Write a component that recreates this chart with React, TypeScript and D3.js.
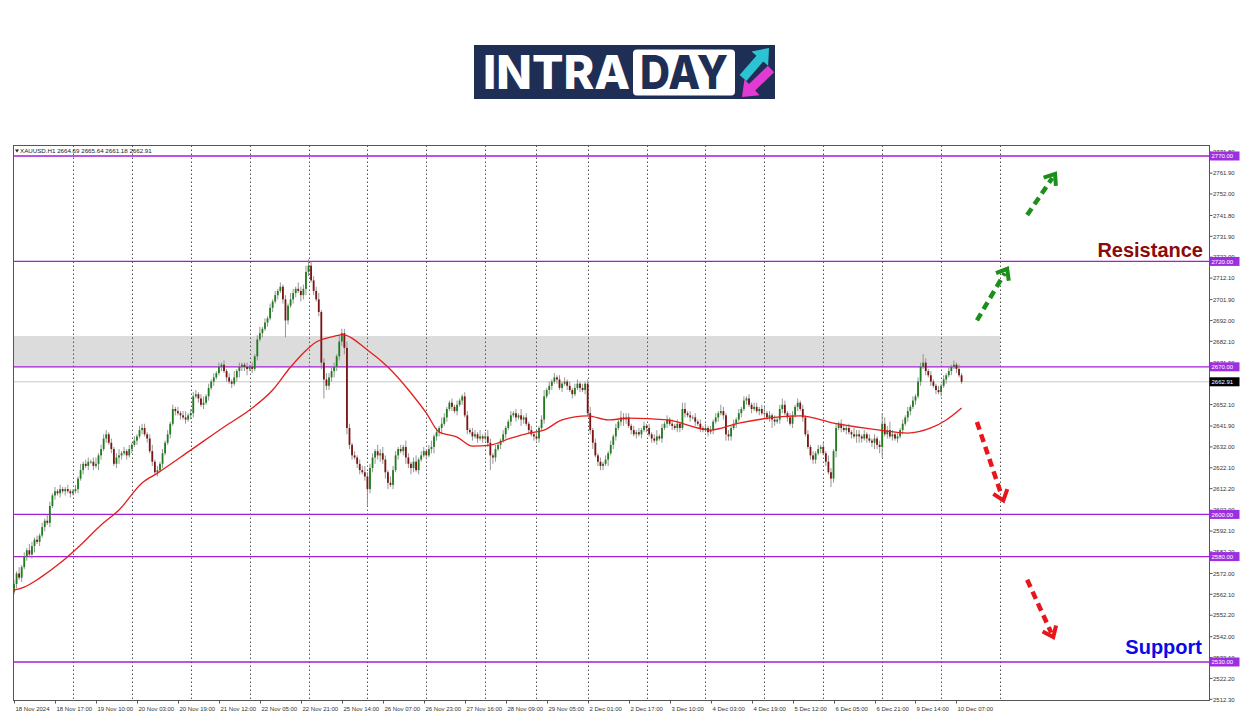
import React from 'react';
import * as d3 from 'd3';

// ---------- DATA ----------
const symbolHeader = 'XAUUSD.H1  2664.69 2665.64 2661.18 2662.91';
const firstOpen = 2563;
const lastPrice = 2662.91;

const closes = [
  2567, 2572, 2570, 2575, 2580, 2583, 2581, 2585, 2588, 2587,
  2590, 2594, 2597, 2596, 2604, 2609, 2611, 2610, 2612, 2611,
  2612, 2611, 2610, 2611, 2612, 2617, 2621, 2624, 2623, 2625,
  2625, 2623, 2624, 2628, 2631, 2636, 2638, 2634, 2631, 2624,
  2627, 2628, 2629, 2630, 2628, 2631, 2633, 2635, 2637, 2640,
  2641, 2638, 2636, 2630, 2625, 2620, 2621, 2624, 2629, 2634,
  2638, 2643, 2650, 2649, 2648, 2647, 2646, 2645, 2647, 2648,
  2656, 2657, 2655, 2652, 2653, 2656, 2660, 2663, 2665, 2667,
  2670, 2671, 2668, 2665, 2663, 2662, 2665, 2668, 2670, 2671,
  2670, 2669, 2670, 2669, 2675, 2683, 2686, 2688, 2691, 2693,
  2698, 2701, 2704, 2706, 2708, 2702, 2692, 2699, 2702, 2705,
  2707, 2706, 2704, 2707, 2715, 2718, 2711, 2706, 2702, 2696,
  2672, 2664, 2661, 2665, 2668, 2670, 2675, 2682, 2686, 2679,
  2641, 2633, 2628, 2627, 2624, 2621, 2620, 2618, 2612, 2622,
  2627, 2630, 2628, 2629, 2626, 2620, 2615, 2614, 2621, 2628,
  2631, 2630, 2632, 2627, 2624, 2622, 2625, 2621, 2626, 2628,
  2630, 2628, 2631, 2632, 2637, 2639, 2641, 2643, 2646, 2650,
  2653, 2651, 2649, 2652, 2654, 2656, 2647, 2640, 2639, 2637,
  2638, 2636, 2637, 2636, 2637, 2634, 2628, 2627, 2631, 2633,
  2635, 2638, 2641, 2644, 2647, 2648, 2646, 2647, 2645, 2646,
  2643, 2640, 2638, 2637, 2636, 2641, 2645, 2656, 2659, 2661,
  2663, 2665, 2664, 2660, 2662, 2663, 2661, 2659, 2657, 2660,
  2662, 2660, 2659, 2662, 2648, 2640, 2634, 2628, 2625, 2623,
  2624, 2626, 2629, 2633, 2637, 2641, 2644, 2646, 2645, 2646,
  2642, 2640, 2638, 2639, 2638, 2640, 2642, 2641, 2638, 2636,
  2635, 2637, 2636, 2641, 2643, 2645, 2643, 2642, 2641, 2643,
  2641, 2650, 2648, 2647, 2646, 2646, 2644, 2643, 2641, 2640,
  2641, 2639, 2640, 2644, 2646, 2648, 2649, 2647, 2638, 2637,
  2641, 2643, 2645, 2648, 2650, 2654, 2655, 2652, 2650, 2651,
  2649, 2650, 2648, 2648, 2646, 2647, 2645, 2644, 2645, 2650,
  2652, 2648, 2646, 2643, 2647, 2651, 2653, 2650, 2646, 2638,
  2632, 2628, 2626, 2629, 2631, 2632, 2629, 2625, 2620, 2617,
  2630, 2641, 2643, 2641, 2640, 2641, 2639, 2638, 2637, 2638,
  2637, 2636, 2638, 2636, 2635, 2634, 2636, 2633, 2632, 2643,
  2638, 2640, 2637, 2638, 2636, 2637, 2640, 2643, 2646, 2649,
  2651, 2654, 2656, 2663, 2670, 2672, 2668, 2666, 2663, 2661,
  2659, 2658, 2661, 2664, 2666, 2668, 2670, 2671, 2669, 2666,
  2662.91,
];

const upWick = [
  2, 1, 3, 1, 2, 1, 3, 2, 1, 2, 1, 2, 1, 3, 2, 1, 2, 1, 2, 1,
  1, 2, 1, 1, 2, 1, 3, 1, 2, 2, 1, 2, 3, 1, 2, 2, 2, 1, 2, 1,
  2, 3, 1, 2, 1, 2, 1, 2, 1, 2, 2, 2, 1, 2, 3, 1, 2, 1, 2, 1,
  2, 1, 2, 1, 2, 1, 2, 3, 1, 2, 2, 2, 1, 2, 3, 1, 2, 1, 2, 1,
  2, 1, 2, 1, 2, 1, 3, 1, 2, 1, 1, 2, 1, 2, 1, 2, 3, 1, 2, 1,
  2, 1, 2, 1, 2, 1, 2, 1, 3, 2, 1, 3, 2, 2, 3, 3, 2, 2, 2, 3,
  1, 2, 3, 2, 2, 2, 1, 3, 2, 2, 3, 2, 1, 2, 1, 2, 2, 3, 2, 2,
  2, 1, 3, 2, 3, 2, 1, 3, 2, 2, 1, 2, 1, 3, 2, 1, 2, 3, 1, 2,
  2, 1, 2, 3, 1, 2, 1, 3, 2, 1, 1, 2, 1, 2, 1, 1, 2, 2, 1, 2,
  2, 1, 3, 1, 2, 3, 2, 1, 2, 1, 1, 2, 1, 1, 2, 1, 2, 1, 3, 1,
  2, 1, 2, 1, 2, 1, 2, 3, 1, 2, 1, 2, 1, 2, 1, 2, 1, 2, 1, 2,
  2, 1, 2, 1, 2, 3, 1, 2, 1, 2, 1, 2, 1, 2, 1, 2, 1, 3, 2, 2,
  2, 1, 2, 1, 2, 1, 2, 1, 2, 1, 2, 3, 1, 2, 1, 2, 1, 2, 1, 2,
  1, 3, 3, 1, 2, 1, 2, 1, 2, 1, 2, 1, 2, 1, 2, 1, 3, 2, 1, 2,
  1, 2, 1, 2, 1, 2, 1, 2, 1, 2, 2, 1, 2, 3, 1, 2, 1, 2, 1, 2,
  3, 2, 1, 2, 2, 1, 2, 1, 2, 1, 2, 1, 2, 1, 2, 1, 2, 1, 3, 2,
  1, 2, 1, 2, 2, 1, 2, 1, 3, 2, 2, 1, 2, 1, 2, 1, 2, 1, 2, 5,
  3, 2, 4, 2, 1, 2, 1, 2, 1, 2, 1, 2, 1, 2, 2, 4, 2, 1, 2, 1,
  1, 2, 1, 2, 1, 2, 1, 2, 1, 2, 1,
];

const downWick = [
  1, 2, 1, 2, 1, 2, 1, 2, 3, 1, 2, 1, 2, 1, 2, 1, 2, 1, 2, 1,
  2, 1, 2, 1, 1, 2, 1, 2, 1, 2, 1, 2, 1, 3, 2, 1, 2, 1, 2, 1,
  2, 3, 2, 1, 2, 1, 2, 1, 2, 1, 2, 1, 2, 1, 2, 1, 2, 1, 2, 1,
  1, 2, 1, 2, 1, 2, 1, 2, 1, 2, 2, 1, 2, 1, 2, 1, 2, 1, 2, 1,
  1, 2, 1, 2, 1, 2, 1, 2, 3, 2, 2, 3, 1, 2, 1, 2, 1, 2, 1, 2,
  1, 2, 1, 2, 1, 2, 8, 2, 1, 2, 2, 1, 3, 2, 3, 2, 1, 2, 1, 2,
  3, 9, 2, 2, 2, 3, 2, 2, 2, 3, 3, 2, 2, 1, 2, 2, 1, 2, 8, 2,
  2, 3, 2, 3, 2, 3, 3, 1, 2, 1, 2, 1, 2, 3, 2, 3, 2, 1, 2, 1,
  1, 2, 1, 2, 3, 2, 2, 3, 1, 2, 1, 2, 1, 2, 1, 2, 1, 2, 1, 2,
  1, 2, 1, 2, 1, 2, 7, 3, 2, 1, 2, 1, 2, 1, 2, 1, 2, 1, 3, 2,
  1, 2, 1, 2, 1, 2, 1, 2, 1, 2, 2, 1, 2, 1, 2, 1, 2, 1, 2, 1,
  1, 2, 1, 2, 1, 2, 3, 1, 2, 2, 2, 1, 3, 1, 2, 2, 1, 2, 3, 2,
  1, 2, 1, 2, 1, 2, 1, 2, 1, 2, 1, 2, 1, 2, 1, 2, 1, 2, 1, 2,
  2, 1, 2, 1, 2, 1, 2, 1, 2, 1, 1, 2, 1, 2, 1, 2, 1, 2, 3, 2,
  2, 1, 2, 1, 2, 1, 2, 1, 2, 1, 1, 2, 1, 2, 1, 2, 4, 2, 1, 2,
  2, 1, 2, 1, 2, 1, 2, 1, 2, 1, 1, 2, 2, 2, 1, 2, 1, 2, 1, 4,
  2, 3, 1, 2, 1, 2, 1, 2, 1, 3, 3, 2, 1, 2, 1, 2, 3, 2, 3, 5,
  1, 2, 1, 2, 1, 2, 1, 2, 1, 2, 2, 1, 2, 1, 2, 1, 2, 1, 2, 1,
  2, 1, 2, 1, 2, 1, 2, 1, 2, 1, 1,
];

// moving average (red line) read at sampled bars
const maBar = [0, 4, 10, 18, 26, 34, 41, 50, 56, 69, 82, 92, 101, 108, 113, 118, 127, 128, 138, 146, 155, 161, 166, 173, 179, 186, 194, 201, 207, 214, 224, 232, 240, 255, 272, 283, 307, 320, 338, 349, 358, 364, 370];
const maValue = [2564.1, 2565.5, 2569.8, 2576.9, 2585.5, 2595.0, 2602.1, 2614.9, 2619.6, 2630.5, 2641.5, 2649.5, 2659.0, 2669.9, 2676.6, 2681.8, 2685.0, 2685.3, 2678.0, 2669.9, 2657.6, 2648.1, 2639.0, 2636.7, 2632.4, 2632.9, 2636.2, 2638.6, 2640.0, 2644.8, 2646.7, 2644.8, 2645.7, 2644.8, 2640.0, 2643.3, 2646.7, 2643.3, 2640.0, 2638.6, 2641.0, 2644.8, 2650.5];

const levels = [2770, 2720, 2670, 2600, 2580, 2530];
const zoneLow = 2670;
const zoneHigh = 2684.6;
const zoneEndBar = 385;

const yTicks = [2771.8, 2761.9, 2752.0, 2741.8, 2731.9, 2722.0, 2712.1, 2701.9, 2692.0, 2682.1, 2671.9, 2662.0, 2652.1, 2641.9, 2632.0, 2622.1, 2612.2, 2602.0, 2592.1, 2582.2, 2572.0, 2562.1, 2552.2, 2542.0, 2532.1, 2522.2, 2512.3];

const xLabels = ['18 Nov 2024', '18 Nov 17:00', '19 Nov 10:00', '20 Nov 03:00', '20 Nov 19:00', '21 Nov 12:00', '22 Nov 05:00', '22 Nov 21:00', '25 Nov 14:00', '26 Nov 07:00', '26 Nov 23:00', '27 Nov 16:00', '28 Nov 09:00', '29 Nov 05:00', '2 Dec 01:00', '2 Dec 17:00', '3 Dec 10:00', '4 Dec 03:00', '4 Dec 19:00', '5 Dec 12:00', '6 Dec 05:00', '6 Dec 21:00', '9 Dec 14:00', '10 Dec 07:00'];
const xLabelBars = [0, 16, 32, 48, 64, 80, 96, 112, 128, 144, 160, 176, 192, 208, 224, 240, 256, 272, 288, 304, 320, 336, 352, 368];
const dayStartBars = [23, 46, 69, 92, 115, 138, 161, 184, 204, 224, 247, 270, 293, 316, 339, 362, 385];

// scenario arrows: [bar, price] -> [bar, price]
const scenarioArrows = [
  { color: '#1a8f1a', from: [376, 2692.0], to: [387.8, 2716.5] },
  { color: '#1a8f1a', from: [395.6, 2742.0], to: [406.5, 2761.5] },
  { color: '#e8161b', from: [376, 2643.8], to: [386.3, 2606.6] },
  { color: '#e8161b', from: [395.6, 2569.0], to: [405.8, 2541.8] },
];

const resistanceText = 'Resistance';
const supportText = 'Support';

// ---------- LAYOUT ----------
const W = 1250;
const H = 716;
const plotLeft = 13.5;
const plotRight = 1209.5;
const plotTop = 145.5;
const plotBottom = 700.5;
const FONT = 'Liberation Sans, Arial, sans-serif';

const x = d3.scaleLinear().domain([0, 385]).range([14, 1000]);
const y = d3.scaleLinear().domain([2530, 2770]).range([662, 156]);

function arrowPolygon(x1: number, y1: number, x2: number, y2: number, sw: number, hw: number, hl: number) {
  const dx = x2 - x1, dy = y2 - y1;
  const L = Math.hypot(dx, dy);
  const ux = dx / L, uy = dy / L;
  const nx = -uy, ny = ux;
  const bx = x2 - ux * hl, by = y2 - uy * hl;
  const pts = [
    [x1 + nx * sw / 2, y1 + ny * sw / 2],
    [bx + nx * sw / 2, by + ny * sw / 2],
    [bx + nx * hw / 2, by + ny * hw / 2],
    [x2, y2],
    [bx - nx * hw / 2, by - ny * hw / 2],
    [bx - nx * sw / 2, by - ny * sw / 2],
    [x1 - nx * sw / 2, y1 - ny * sw / 2],
  ];
  return pts.map((p) => p.join(',')).join(' ');
}

export default function App() {
  const candles = closes.map((c, i) => {
    const o = i === 0 ? firstOpen : closes[i - 1];
    const hi = Math.max(o, c) + upWick[i];
    const lo = Math.min(o, c) - downWick[i];
    return { i, o, c, hi, lo };
  });

  const maLine = d3
    .line<number>()
    .x((_, k) => x(maBar[k]))
    .y((v) => y(v))
    .curve(d3.curveMonotoneX)(maValue) as string;

  const bodyW = 1.8;

  return (
    <svg width={W} height={H} style={{ position: 'absolute', left: 0, top: 0, background: '#fff' }}>
      {/* Logo */}
      <g>
        <rect x={474} y={45} width={301} height={54} fill="#1e2e55" />
        <text x={483} y={89} fill="#fff" fontFamily="Inter, Liberation Sans, sans-serif" fontWeight={800} fontSize={46} textLength={147} lengthAdjust="spacingAndGlyphs">INTRA</text>
        <rect x={633} y={49.5} width={102} height={46} rx={4} fill="#fff" />
        <text x={640} y={89} fill="#1e2e55" fontFamily="Inter, Liberation Sans, sans-serif" fontWeight={800} fontSize={46} textLength={88} lengthAdjust="spacingAndGlyphs">DAY</text>
        <polygon points={arrowPolygon(743, 78, 769, 48, 9, 22, 14)} fill="#2cc4d2" />
        <polygon points={arrowPolygon(771, 69, 742, 97, 9, 22, 14)} fill="#e23ad2" />
      </g>

      {/* zone */}
      <rect x={x(0) - 0.5} y={y(zoneHigh)} width={x(zoneEndBar) - x(0) + 0.5} height={y(zoneLow) - y(zoneHigh)} fill="#dcdcdc" />

      {/* vertical day grid */}
      {dayStartBars.map((b) => (
        <line key={'g' + b} x1={Math.round(x(b)) + 0.5} x2={Math.round(x(b)) + 0.5} y1={plotTop} y2={plotBottom} stroke="#555" strokeWidth={1} strokeDasharray="1.5,2.5" />
      ))}

      {/* current price line */}
      <line x1={plotLeft} x2={plotRight} y1={y(lastPrice)} y2={y(lastPrice)} stroke="#c8c8c8" strokeWidth={1} />

      {/* level lines */}
      {levels.map((lv) => (
        <line key={'l' + lv} x1={plotLeft} x2={plotRight} y1={y(lv)} y2={y(lv)} stroke="#a21fd8" strokeWidth={1.3} />
      ))}

      {/* candles */}
      {candles.map((d) => {
        const cx = x(d.i);
        const bull = d.c >= d.o;
        const top = y(Math.max(d.o, d.c));
        const bot = y(Math.min(d.o, d.c));
        return (
          <g key={'c' + d.i}>
            <line x1={cx} x2={cx} y1={y(d.hi)} y2={y(d.lo)} stroke="#8a8a8a" strokeWidth={0.9} />
            <rect x={cx - bodyW / 2} y={top} width={bodyW} height={Math.max(0.8, bot - top)} fill={bull ? '#1f7d1f' : '#7d1414'} />
          </g>
        );
      })}

      {/* moving average */}
      <path d={maLine} fill="none" stroke="#e41d1d" strokeWidth={1.3} />

      {/* scenario arrows */}
      {scenarioArrows.map((a, k) => {
        const x1 = x(a.from[0]), y1 = y(a.from[1]);
        const x2 = x(a.to[0]), y2 = y(a.to[1]);
        const L = Math.hypot(x2 - x1, y2 - y1);
        const ux = (x2 - x1) / L, uy = (y2 - y1) / L;
        const ang = Math.PI / 180 * 38;
        const al = 12;
        const rot = (c: number, s: number) => [-(ux * c - uy * s) * al, -(uy * c + ux * s) * al];
        const a1 = rot(Math.cos(ang), Math.sin(ang));
        const a2 = rot(Math.cos(-ang), Math.sin(-ang));
        return (
          <g key={'a' + k}>
            <line x1={x1} y1={y1} x2={x2 - ux * 5} y2={y2 - uy * 5} stroke={a.color} strokeWidth={4.5} strokeDasharray="8,5" />
            <polyline points={`${x2 + a1[0]},${y2 + a1[1]} ${x2},${y2} ${x2 + a2[0]},${y2 + a2[1]}`} fill="none" stroke={a.color} strokeWidth={4} />
          </g>
        );
      })}

      {/* frame */}
      <rect x={plotLeft} y={plotTop} width={plotRight - plotLeft} height={plotBottom - plotTop} fill="none" stroke="#555" strokeWidth={1} />

      {/* header */}
      <path d="M15,149.5 L19,149.5 L17,152.5 Z" fill="#222" />
      <text x={20} y={153} fontFamily={FONT} fontSize={6.2} fill="#222">{symbolHeader}</text>

      {/* y axis ticks */}
      {yTicks.map((t) => (
        <g key={'yt' + t}>
          <line x1={plotRight} x2={plotRight + 3} y1={y(t)} y2={y(t)} stroke="#555" />
          <text x={plotRight + 3.5} y={y(t) + 2.2} fontFamily={FONT} fontSize={6} fill="#333">{t.toFixed(2)}</text>
        </g>
      ))}

      {/* level labels */}
      {levels.map((lv) => (
        <g key={'ll' + lv}>
          <rect x={plotRight} y={y(lv) - 4.5} width={30} height={9} fill="#9d2fe0" />
          <text x={plotRight + 2} y={y(lv) + 2.2} fontFamily={FONT} fontSize={6} fill="#fff">{lv.toFixed(2)}</text>
        </g>
      ))}
      <rect x={plotRight} y={y(lastPrice) - 4.5} width={30} height={9} fill="#000" />
      <text x={plotRight + 2} y={y(lastPrice) + 2.2} fontFamily={FONT} fontSize={6} fill="#fff">{lastPrice.toFixed(2)}</text>

      {/* x axis labels */}
      {xLabels.map((lab, k) => {
        const px = Math.round(x(xLabelBars[k])) + 0.5;
        return (
          <g key={'xl' + k}>
            <line x1={px} x2={px} y1={plotBottom} y2={plotBottom + 3} stroke="#555" />
            <text x={px + 1} y={711} fontFamily={FONT} fontSize={6} fill="#333">{lab}</text>
          </g>
        );
      })}

      {/* annotations */}
      <text x={1203} y={257} textAnchor="end" fontFamily={FONT} fontWeight={700} fontSize={20} fill="#8b0a0a">{resistanceText}</text>
      <text x={1202} y={654} textAnchor="end" fontFamily={FONT} fontWeight={700} fontSize={20} fill="#0a0ae6">{supportText}</text>
    </svg>
  );
}
